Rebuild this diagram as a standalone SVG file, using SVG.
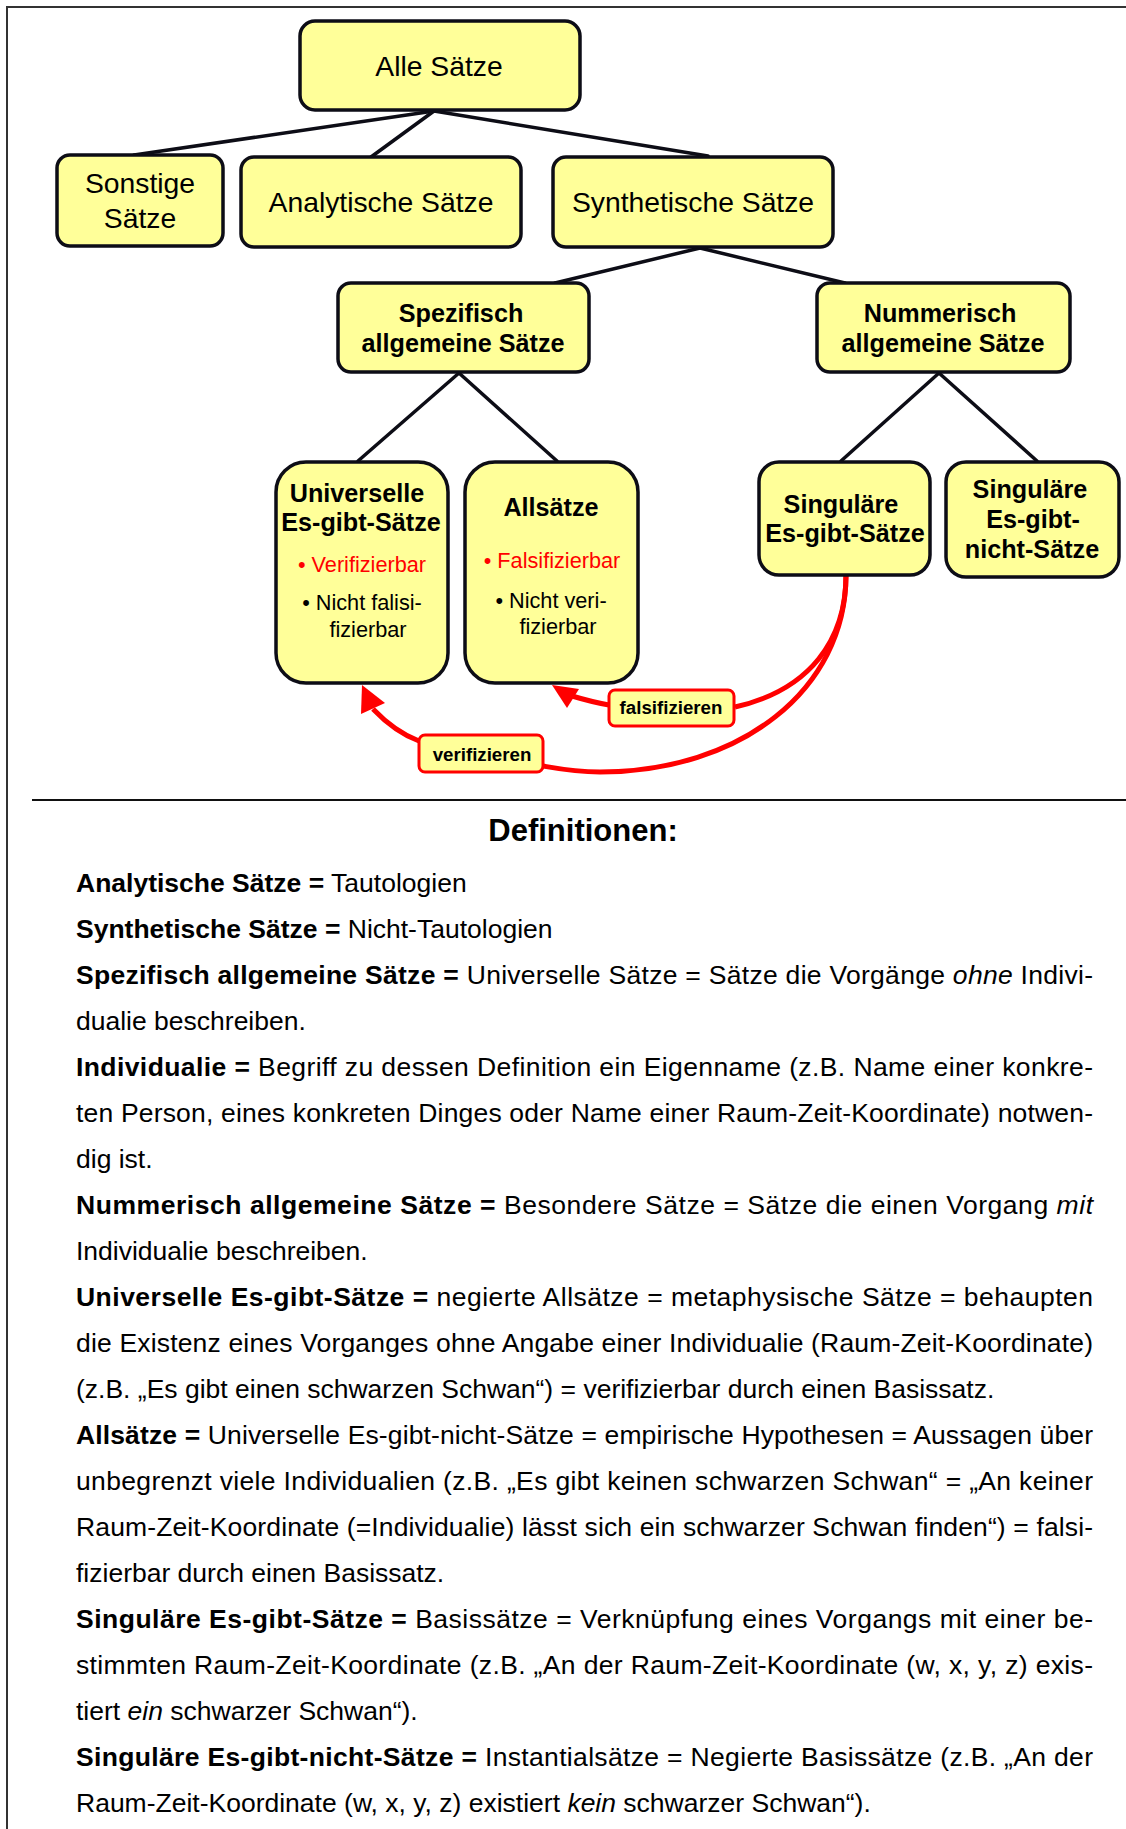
<svg xmlns="http://www.w3.org/2000/svg" width="1126" height="1829" viewBox="0 0 1126 1829">
<style>
text{font-family:"Liberation Sans",Arial,sans-serif;fill:#000}
.box{fill:#FFFF99;stroke:#0d0d16;stroke-width:3.5}
.lbl{fill:#FFFF99;stroke:#FF0000;stroke-width:3}
.conn line{stroke:#0d0d16;stroke-width:3.5;stroke-linecap:round}
.red{fill:none;stroke:#FF0000;stroke-width:5}
.n27{font-size:28.3px;text-anchor:middle}
.b25{font-size:25.2px;font-weight:bold;text-anchor:middle}
.s22{font-size:21.7px;text-anchor:middle}
.r{fill:#FF0000}
.l19{font-size:18.7px;font-weight:bold;text-anchor:middle}
.def{font-size:26.5px}
.b{font-weight:bold}
.i{font-style:italic}
</style>

<!-- frame -->
<path d="M7,1829 V7 H1126" fill="none" stroke="#333" stroke-width="2"/>
<line x1="32" y1="800" x2="1126" y2="800" stroke="#111" stroke-width="2"/>

<!-- connectors -->
<g id="connectors" class="conn">
<line x1="434" y1="111" x2="134" y2="155"/>
<line x1="434" y1="111" x2="371" y2="157"/>
<line x1="434" y1="111" x2="708" y2="156"/>
<line x1="700" y1="248" x2="555" y2="283"/>
<line x1="700" y1="248" x2="845" y2="283"/>
<line x1="459" y1="373" x2="358" y2="461"/>
<line x1="459" y1="373" x2="557" y2="461"/>
<line x1="939" y1="373" x2="841" y2="461"/>
<line x1="939" y1="373" x2="1037" y2="461"/>
<path class="red" d="M846,575 C846,640 810,690 735,707"/>
<path class="red" d="M609,705 Q592,702 572,696"/>
<polygon points="552,685 567,708 579,689" fill="#FF0000"/>
<path class="red" d="M846,575 C846,690 740,772 600,772 C575,772 560,769 543,766"/>
<path class="red" d="M373,709 Q395,732 419,741"/>
<polygon points="362,685 361,714 385,703" fill="#FF0000"/>
</g>

<g id="alle"><rect class="box" x="300" y="21" width="280" height="89" rx="15"/><text class="n27" x="439" y="76">Alle Sätze</text></g>
<g id="sonstige"><rect class="box" x="57" y="155" width="166" height="91" rx="13"/><text class="n27" x="140" y="193">Sonstige</text><text class="n27" x="140" y="228">Sätze</text></g>
<g id="analytische"><rect class="box" x="241" y="157" width="280" height="90" rx="13"/><text class="n27" x="381" y="212">Analytische Sätze</text></g>
<g id="synthetische"><rect class="box" x="553" y="157" width="280" height="90" rx="13"/><text class="n27" x="693" y="212">Synthetische Sätze</text></g>
<g id="spezifisch"><rect class="box" x="338" y="283" width="251" height="89" rx="13"/><text class="b25" x="461" y="322">Spezifisch</text><text class="b25" x="463" y="352">allgemeine Sätze</text></g>
<g id="nummerisch"><rect class="box" x="817" y="283" width="253" height="89" rx="13"/><text class="b25" x="940" y="322">Nummerisch</text><text class="b25" x="943" y="352">allgemeine Sätze</text></g>
<g id="universelle"><rect class="box" x="276" y="462" width="172" height="221" rx="30"/>
<text class="b25" x="357" y="502">Universelle</text><text class="b25" x="361" y="531">Es-gibt-Sätze</text>
<text class="s22 r" x="362" y="572">• Verifizierbar</text>
<text class="s22" x="362" y="610">• Nicht falisi-</text>
<text class="s22" x="368" y="637">fizierbar</text></g>
<g id="allsaetze"><rect class="box" x="465" y="462" width="173" height="221" rx="30"/>
<text class="b25" x="551" y="516">Allsätze</text>
<text class="s22 r" x="552" y="568">• Falsifizierbar</text>
<text class="s22" x="551" y="608">• Nicht veri-</text>
<text class="s22" x="558" y="634">fizierbar</text></g>
<g id="sing-esgibt"><rect class="box" x="759" y="462" width="171" height="113" rx="20"/><text class="b25" x="841" y="513">Singuläre</text><text class="b25" x="845" y="542">Es-gibt-Sätze</text></g>
<g id="sing-nicht"><rect class="box" x="946" y="462" width="173" height="115" rx="20"/><text class="b25" x="1030" y="498">Singuläre</text><text class="b25" x="1033" y="528">Es-gibt-</text><text class="b25" x="1032" y="558">nicht-Sätze</text></g>
<g id="lbl-verifizieren"><rect class="lbl" x="419" y="735" width="124" height="37" rx="6"/><text class="l19" x="482" y="761">verifizieren</text></g>
<g id="lbl-falsifizieren"><rect class="lbl" x="609" y="690" width="125" height="36" rx="6"/><text class="l19" x="671" y="714">falsifizieren</text></g>

<g id="definitionen">
<text x="583" y="841" font-size="31" font-weight="bold" text-anchor="middle">Definitionen:</text>
<g class="def">
<text x="76" y="892"><tspan class="b">Analytische Sätze =</tspan> Tautologien</text>
<text x="76" y="938"><tspan class="b">Synthetische Sätze =</tspan> Nicht-Tautologien</text>
<text x="76" y="984" textLength="1017" lengthAdjust="spacing"><tspan class="b">Spezifisch allgemeine Sätze =</tspan> Universelle Sätze = Sätze die Vorgänge <tspan class="i">ohne</tspan> Indivi-</text>
<text x="76" y="1030">dualie beschreiben.</text>
<text x="76" y="1076" textLength="1017" lengthAdjust="spacing"><tspan class="b">Individualie =</tspan> Begriff zu dessen Definition ein Eigenname (z.B. Name einer konkre-</text>
<text x="76" y="1122" textLength="1017" lengthAdjust="spacing">ten Person, eines konkreten Dinges oder Name einer Raum-Zeit-Koordinate) notwen-</text>
<text x="76" y="1168">dig ist.</text>
<text x="76" y="1214" textLength="1017" lengthAdjust="spacing"><tspan class="b">Nummerisch allgemeine Sätze =</tspan> Besondere Sätze = Sätze die einen Vorgang <tspan class="i">mit</tspan></text>
<text x="76" y="1260">Individualie beschreiben.</text>
<text x="76" y="1306" textLength="1017" lengthAdjust="spacing"><tspan class="b">Universelle Es-gibt-Sätze =</tspan> negierte Allsätze = metaphysische Sätze = behaupten</text>
<text x="76" y="1352" textLength="1017" lengthAdjust="spacing">die Existenz eines Vorganges ohne Angabe einer Individualie (Raum-Zeit-Koordinate)</text>
<text x="76" y="1398">(z.B. „Es gibt einen schwarzen Schwan“) = verifizierbar durch einen Basissatz.</text>
<text x="76" y="1444" textLength="1017" lengthAdjust="spacing"><tspan class="b">Allsätze =</tspan> Universelle Es-gibt-nicht-Sätze = empirische Hypothesen = Aussagen über</text>
<text x="76" y="1490" textLength="1017" lengthAdjust="spacing">unbegrenzt viele Individualien (z.B. „Es gibt keinen schwarzen Schwan“ = „An keiner</text>
<text x="76" y="1536" textLength="1017" lengthAdjust="spacing">Raum-Zeit-Koordinate (=Individualie) lässt sich ein schwarzer Schwan finden“) = falsi-</text>
<text x="76" y="1582">fizierbar durch einen Basissatz.</text>
<text x="76" y="1628" textLength="1017" lengthAdjust="spacing"><tspan class="b">Singuläre Es-gibt-Sätze =</tspan> Basissätze = Verknüpfung eines Vorgangs mit einer be-</text>
<text x="76" y="1674" textLength="1017" lengthAdjust="spacing">stimmten Raum-Zeit-Koordinate (z.B. „An der Raum-Zeit-Koordinate (w, x, y, z) exis-</text>
<text x="76" y="1720">tiert <tspan class="i">ein</tspan> schwarzer Schwan“).</text>
<text x="76" y="1766" textLength="1017" lengthAdjust="spacing"><tspan class="b">Singuläre Es-gibt-nicht-Sätze =</tspan> Instantialsätze = Negierte Basissätze (z.B. „An der</text>
<text x="76" y="1812">Raum-Zeit-Koordinate (w, x, y, z) existiert <tspan class="i">kein</tspan> schwarzer Schwan“).</text>
</g>
</g>
</svg>
